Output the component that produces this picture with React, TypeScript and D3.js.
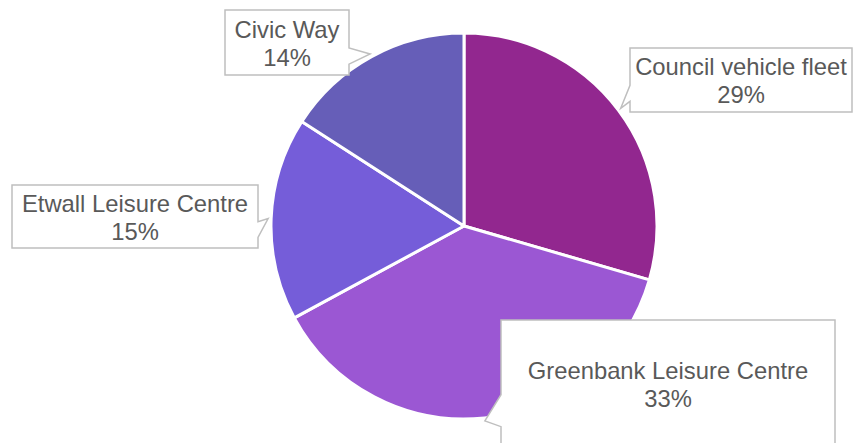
import React, { useEffect, useRef } from 'react';
import * as d3 from 'd3';

const categories = ['Council vehicle fleet', 'Greenbank Leisure Centre', 'Etwall Leisure Centre', 'Civic Way'];
// slice sizes as drawn in the picture (angular share)
const shares = [29.5, 37.6, 17.0, 15.9];
// percentages printed on the callouts
const labelPct = [29, 33, 15, 14];
const colors = ['#92278F', '#9B57D3', '#755DD9', '#665EB8'];

// callout boxes (layout only): x, y, w, h
const boxes = [
  { x: 630, y: 48, w: 222, h: 64 },
  { x: 501, y: 320, w: 334, h: 128 },
  { x: 12, y: 185, w: 246, h: 63 },
  { x: 225, y: 10, w: 124, h: 65 },
];

function calloutPath(b: { x: number; y: number; w: number; h: number }, tx: number, ty: number) {
  const { x, y, w, h } = b;
  const hc = x + w / 2, vc = y + h / 2;
  const dx = tx - hc, dy = ty - vc;
  const dq = (dx * h) / w;
  const dz = Math.abs(dy) - Math.abs(dq);
  const x1 = x + (w * (dx > 0 ? 7 : 2)) / 12, x2 = x + (w * (dx > 0 ? 10 : 5)) / 12;
  const y1 = y + (h * (dy > 0 ? 7 : 2)) / 12, y2 = y + (h * (dy > 0 ? 10 : 5)) / 12;
  const r = x + w, bt = y + h;
  const p = d3.path();
  p.moveTo(x, y);
  if (dz > 0 && dy < 0) { p.lineTo(x1, y); p.lineTo(tx, ty); p.lineTo(x2, y); }
  p.lineTo(r, y);
  if (dz <= 0 && dx > 0) { p.lineTo(r, y1); p.lineTo(tx, ty); p.lineTo(r, y2); }
  p.lineTo(r, bt);
  if (dz > 0 && dy > 0) { p.lineTo(x2, bt); p.lineTo(tx, ty); p.lineTo(x1, bt); }
  p.lineTo(x, bt);
  if (dz <= 0 && dx < 0) { p.lineTo(x, y2); p.lineTo(tx, ty); p.lineTo(x, y1); }
  p.closePath();
  return p.toString();
}

const width = 854;
const height = 443;

const App: React.FC = () => {
  const svgRef = useRef<SVGSVGElement>(null);

  useEffect(() => {
    if (!svgRef.current) return;
    const svg = d3.select(svgRef.current);
    svg.selectAll('*').remove();

    const cx = 464, cy = 226, radius = 193;

    const pie = d3.pie<number>().sort(null).value(d => d).startAngle(0).endAngle(2 * Math.PI);
    const arcs = pie(shares);
    const arc = d3.arc<d3.PieArcDatum<number>>().innerRadius(0).outerRadius(radius);

    const g = svg.append('g').attr('transform', `translate(${cx},${cy})`);
    g.selectAll('path')
      .data(arcs)
      .join('path')
      .attr('d', arc)
      .attr('fill', (_, i) => colors[i])
      .attr('stroke', '#fff')
      .attr('stroke-width', 3)
      .attr('stroke-linejoin', 'round');

    const labels = svg.append('g');
    arcs.forEach((a, i) => {
      const mid = (a.startAngle + a.endAngle) / 2;
      const tr = radius + 3;
      const tx = cx + tr * Math.sin(mid);
      const ty = cy - tr * Math.cos(mid);
      const b = boxes[i];
      labels.append('path')
        .attr('d', calloutPath(b, tx, ty))
        .attr('fill', '#fff')
        .attr('stroke', '#BFBFBF')
        .attr('stroke-width', 1.5);
      const vc = b.y + b.h / 2;
      const t = labels.append('text')
        .attr('text-anchor', 'middle')
        .attr('font-family', '"Liberation Sans", Arial, sans-serif')
        .attr('font-size', 23.8)
        .attr('fill', '#595959');
      t.append('tspan').attr('x', b.x + b.w / 2).attr('y', vc - 5).text(categories[i]);
      t.append('tspan').attr('x', b.x + b.w / 2).attr('y', vc + 23).text(`${labelPct[i]}%`);
    });
  }, []);

  return (
    <div style={{ position: 'absolute', left: 0, top: 0 }}>
      <svg ref={svgRef} width={width} height={height} style={{ display: 'block', background: '#fff' }}></svg>
    </div>
  );
};

export default App;
